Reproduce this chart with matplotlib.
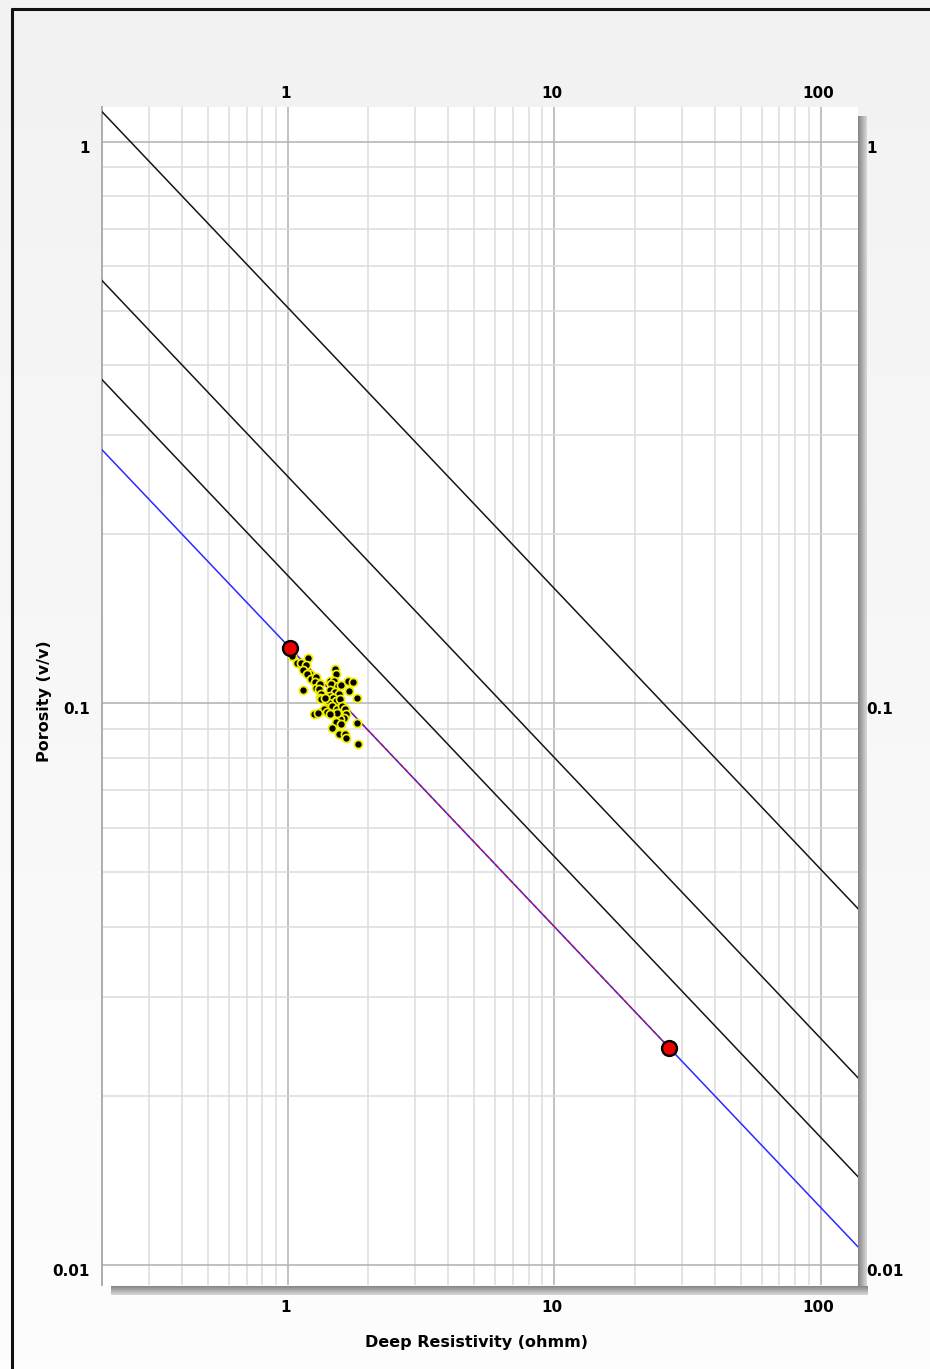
import matplotlib
matplotlib.use("Agg")
import matplotlib.pyplot as plt
import numpy as np
from matplotlib.ticker import LogLocator, NullFormatter, FixedLocator
from matplotlib.colors import LinearSegmentedColormap
from matplotlib.transforms import ScaledTranslation

# ---- data ----
rt_pts = [1.038, 1.192, 1.078, 1.119, 1.163, 1.142, 1.210, 1.173, 1.221, 1.271,
          1.257, 1.142, 1.271, 1.320, 1.304, 1.331, 1.312, 1.502, 1.511, 1.439,
          1.489, 1.448, 1.534, 1.583, 1.677, 1.751, 1.687, 1.812, 1.439, 1.502,
          1.551, 1.431, 1.472, 1.516, 1.569, 1.418, 1.398, 1.459, 1.525, 1.592,
          1.629, 1.648, 1.615, 1.560, 1.525, 1.358, 1.398, 1.431, 1.246, 1.289,
          1.516, 1.578, 1.459, 1.812, 1.546, 1.638, 1.648, 1.823, 1.331, 1.377]
phi_pts = [0.1214, 0.1206, 0.1181, 0.1181, 0.1168, 0.1147, 0.1129, 0.1126, 0.1103, 0.1115,
           0.1092, 0.1056, 0.1066, 0.1081, 0.1059, 0.1040, 0.1020, 0.1150, 0.1126, 0.1098,
           0.1096, 0.1081, 0.1074, 0.1077, 0.1094, 0.1092, 0.1052, 0.1024, 0.1055, 0.1049,
           0.1038, 0.1031, 0.1020, 0.1010, 0.1017, 0.1003, 0.0983, 0.0989, 0.0976, 0.0989,
           0.0976, 0.0956, 0.0943, 0.0936, 0.0963, 0.0976, 0.0967, 0.0959, 0.0959, 0.0961,
           0.0927, 0.0918, 0.0905, 0.0924, 0.0881, 0.0883, 0.0867, 0.0846, 0.1017, 0.1024]

pick_rt = [1.017, 26.93]      # red picked points
pick_phi = [0.1255, 0.02438]

line_rt = [0.2, 138]                          # ends of the Sw lines
sw_vals = [1.0, 0.75, 0.5, 0.25]
phi_left = [0.2828, 0.377, 0.566, 1.131]
phi_right = [0.01077, 0.01436, 0.02154, 0.0431]

xticks = [1, 10, 100]
xlabels = ["1", "10", "100"]
yticks = [0.01, 0.1, 1]
ylabels = ["0.01", "0.1", "1"]

W, H = 930, 1369
fig = plt.figure(figsize=(W / 100, H / 100), dpi=100)

# background, frame and drop shadow (pixel coords)
bg = fig.add_axes([0, 0, 1, 1], zorder=-1)
bg.set_xlim(0, W); bg.set_ylim(H, 0); bg.axis('off')
grad = LinearSegmentedColormap.from_list("bg", ["#f2f2f2", "#fdfdfd"])
bg.imshow(np.linspace(0, 1, 256).reshape(-1, 1), cmap=grad, extent=(0, W, H, 0), aspect='auto')
shade = LinearSegmentedColormap.from_list("sh", ["#858585", "#d8d8d8"])
bg.imshow(np.linspace(0, 1, 32).reshape(1, -1), cmap=shade, extent=(858, 867, 1295, 116), aspect='auto')
bg.imshow(np.linspace(0, 1, 32).reshape(-1, 1), cmap=shade, extent=(111, 867, 1295, 1286), aspect='auto')
bg.plot([11, W], [8.5, 8.5], color="#111", lw=2.2, solid_capstyle='butt')
bg.plot([11.5, 11.5], [8, H], color="#111", lw=2.2, solid_capstyle='butt')
bg.set_xlim(0, W); bg.set_ylim(H, 0)

ax = fig.add_axes([102 / W, 1 - 1285 / H, 756 / W, 1178 / H])
ax.set_facecolor("white")
ax.set_xscale('log'); ax.set_yscale('log')
ax.set_xlim(0.2, 138); ax.set_ylim(0.00921, 1.153)

ax.xaxis.set_major_locator(FixedLocator(xticks))
ax.yaxis.set_major_locator(FixedLocator(yticks))
ax.xaxis.set_minor_locator(LogLocator(base=10, subs=range(2, 10), numticks=20))
ax.yaxis.set_minor_locator(LogLocator(base=10, subs=range(2, 10), numticks=20))
ax.xaxis.set_minor_formatter(NullFormatter()); ax.yaxis.set_minor_formatter(NullFormatter())
ax.set_xticklabels(xlabels); ax.set_yticklabels(ylabels)
ax.grid(which='major', color="#b6b6b6", lw=1.2, zorder=0)
ax.grid(which='minor', color="#dcdcdc", lw=1.1, zorder=0)
ax.set_axisbelow(True)
for s in ('top', 'right', 'bottom'):
    ax.spines[s].set_visible(False)
ax.spines['left'].set_color("#a8a8a8"); ax.spines['left'].set_linewidth(1.3)

ax.tick_params(which='both', length=0)
ax.tick_params(axis='x', pad=11, labelsize=11)
ax.tick_params(axis='y', pad=9, labelsize=11)
for lab in ax.get_xticklabels() + ax.get_yticklabels():
    lab.set_fontweight('bold')

# top and right labels
sx = ax.secondary_xaxis('top')
sx.set_xticks(xticks); sx.set_xticklabels(xlabels, fontweight='bold', fontsize=11)
sx.xaxis.set_minor_locator(FixedLocator([]))
sx.tick_params(which='both', length=0, pad=4)
sx.spines['top'].set_visible(False)
sy = ax.secondary_yaxis('right')
sy.set_yticks(yticks); sy.set_yticklabels(ylabels, fontweight='bold', fontsize=11)
sy.yaxis.set_minor_locator(FixedLocator([]))
sy.tick_params(which='both', length=0, pad=6)
sy.spines['right'].set_visible(False)

# small offsets the original shows on its labels
for lab in ax.get_yticklabels() + sy.get_yticklabels():
    lab.set_transform(lab.get_transform() + ScaledTranslation(0, -5 / 100, fig.dpi_scale_trans))
for lab in ax.get_xticklabels() + sx.get_xticklabels():
    lab.set_transform(lab.get_transform() + ScaledTranslation(-3 / 100, 0, fig.dpi_scale_trans))

# Sw lines
for sw, p0, p1 in zip(sw_vals, phi_left, phi_right):
    ax.plot(line_rt, [p0, p1], color="#2a2aff" if sw == 1.0 else "#151515", lw=1.1, zorder=3)
ax.plot(pick_rt, pick_phi, color="#d01030", lw=1.0, ls=(0, (3, 2)), zorder=4)

ax.scatter(rt_pts, phi_pts, s=34, c="black", edgecolors="#f0f000", linewidths=1.3, zorder=5)
ax.scatter(pick_rt, pick_phi, s=115, c="#ee0000", edgecolors="black", linewidths=1.7, zorder=6)

fig.text(476 / W, 1 - 1343 / H, "Deep Resistivity (ohmm)", ha="center", va="center",
         fontsize=11.5, fontweight="bold")
fig.text(45 / W, 1 - 701 / H, "Porosity (v/v)", ha="center", va="center", rotation=90,
         fontsize=11.5, fontweight="bold")

fig.savefig("out.png", dpi=100, facecolor="white")
